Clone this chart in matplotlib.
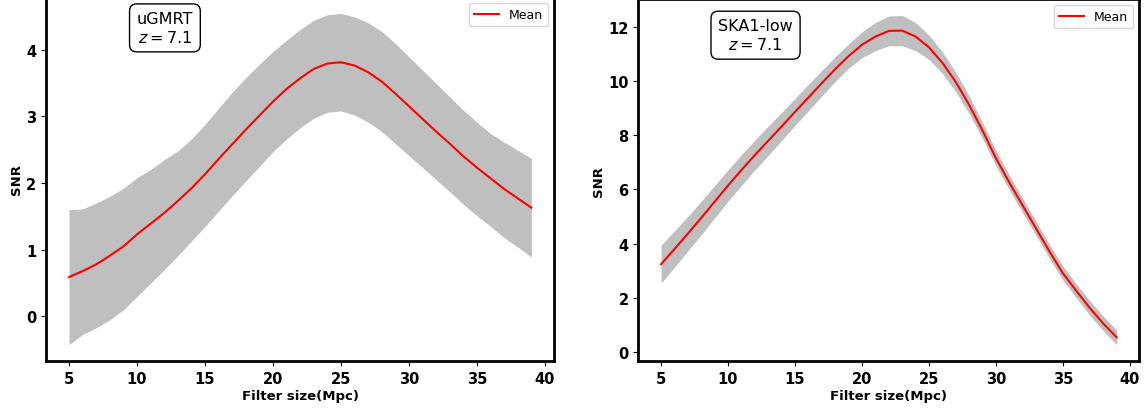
import numpy as np
import matplotlib.pyplot as plt

filter_size = list(range(5, 40))

# uGMRT, z = 7.1
ugmrt_mean = [0.59, 0.68, 0.78, 0.91, 1.05, 1.23, 1.39, 1.55, 1.73, 1.92,
              2.13, 2.36, 2.58, 2.80, 3.01, 3.22, 3.41, 3.57, 3.71, 3.79,
              3.81, 3.76, 3.66, 3.52, 3.34, 3.15, 2.96, 2.77, 2.59, 2.40,
              2.23, 2.07, 1.91, 1.77, 1.63]
ugmrt_upper = [1.60, 1.61, 1.70, 1.80, 1.92, 2.08, 2.20, 2.35, 2.48, 2.66,
               2.88, 3.12, 3.36, 3.58, 3.78, 3.97, 4.14, 4.30, 4.44, 4.52,
               4.54, 4.49, 4.40, 4.27, 4.09, 3.89, 3.69, 3.49, 3.29, 3.09,
               2.91, 2.74, 2.61, 2.49, 2.37]
ugmrt_lower = [-0.42, -0.27, -0.17, -0.05, 0.10, 0.30, 0.50, 0.70, 0.91, 1.13,
               1.35, 1.58, 1.81, 2.03, 2.25, 2.47, 2.66, 2.83, 2.97, 3.06,
               3.08, 3.02, 2.91, 2.77, 2.59, 2.41, 2.23, 2.05, 1.87, 1.68,
               1.51, 1.35, 1.18, 1.04, 0.89]

# SKA1-low, z = 7.1
ska_mean = [3.24, 3.80, 4.37, 4.95, 5.55, 6.15, 6.72, 7.27, 7.80, 8.33,
            8.87, 9.40, 9.93, 10.45, 10.93, 11.35, 11.65, 11.86, 11.87, 11.65,
            11.25, 10.68, 9.97, 9.12, 8.17, 7.15, 6.25, 5.40, 4.55, 3.70,
            2.90, 2.25, 1.62, 1.05, 0.54]
ska_upper = [3.94, 4.47, 5.01, 5.57, 6.15, 6.73, 7.29, 7.82, 8.34, 8.85,
             9.37, 9.89, 10.40, 10.91, 11.38, 11.83, 12.17, 12.41, 12.43, 12.17,
             11.70, 11.08, 10.33, 9.45, 8.47, 7.43, 6.52, 5.67, 4.81, 3.96,
             3.16, 2.51, 1.89, 1.32, 0.81]
ska_lower = [2.54, 3.13, 3.73, 4.33, 4.95, 5.57, 6.15, 6.72, 7.26, 7.81,
             8.37, 8.91, 9.46, 9.99, 10.48, 10.87, 11.13, 11.31, 11.31, 11.13,
             10.80, 10.28, 9.61, 8.79, 7.87, 6.87, 5.98, 5.13, 4.29, 3.44,
             2.64, 1.99, 1.35, 0.78, 0.27]

panels = [
    (ugmrt_mean, ugmrt_upper, ugmrt_lower, 'uGMRT\n$z = 7.1$', [0.040, 0.117, 0.443, 0.888], (0.234, 0.915)),
    (ska_mean, ska_upper, ska_lower, 'SKA1-low\n$z = 7.1$', [0.556, 0.117, 0.4365, 0.883], (0.234, 0.90)),
]

fig = plt.figure(figsize=(11.48, 4.10), dpi=100)

for mean, upper, lower, label, pos, txtpos in panels:
    ax = fig.add_axes(pos)
    ax.fill_between(filter_size, lower, upper, color='grey', alpha=0.5, linewidth=0)
    ax.plot(filter_size, mean, color='red', lw=1.5, label='Mean')
    ax.set_xlabel('Filter size(Mpc)', fontsize=9.5, fontweight='bold', labelpad=2)
    ax.set_ylabel('SNR', fontsize=9.5, fontweight='bold', labelpad=2)
    ax.set_xticks([5, 10, 15, 20, 25, 30, 35, 40])
    for t in ax.get_xticklabels() + ax.get_yticklabels():
        t.set_fontweight('bold')
        t.set_fontsize(10.5)
    for s in ax.spines.values():
        s.set_linewidth(2)
    ax.text(txtpos[0], txtpos[1], label, transform=ax.transAxes, ha='center', va='center',
            fontsize=11.5, bbox=dict(boxstyle='round,pad=0.45', facecolor='white', edgecolor='black'))
    ax.legend(loc='upper right', fontsize=9)

plt.savefig('out.png')
